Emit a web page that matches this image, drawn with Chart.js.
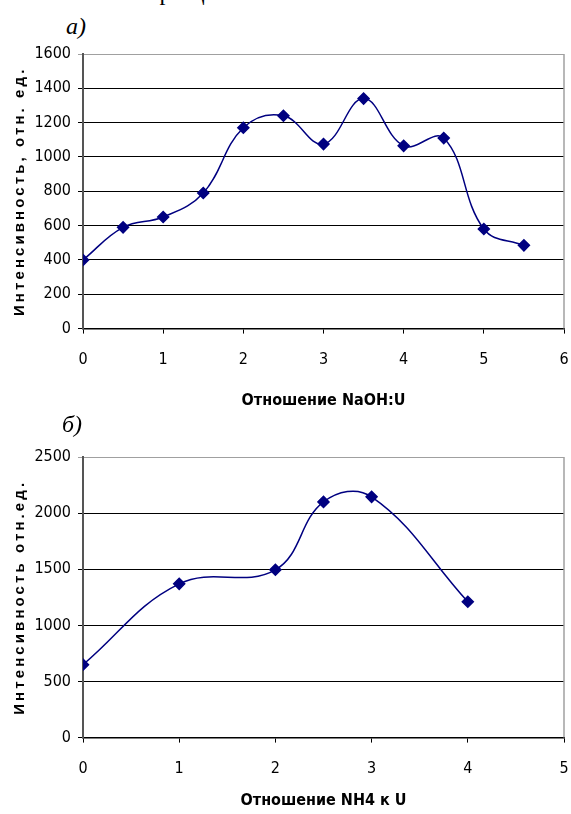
<!DOCTYPE html>
<html lang="ru">
<head>
  <meta charset="UTF-8">
  <title>Интенсивность</title>
  <script src="https://cdn.jsdelivr.net/npm/chart.js"></script>
  <style>
    body { margin: 0; background: #fff; width: 571px; height: 814px; position: relative; overflow: hidden; }
    .lbl { position: absolute; font-family: "Liberation Serif", serif; font-style: italic; font-size: 24px; color: #000; }
    .box { position: absolute; left: 0; width: 571px; }
  </style>
</head>
<body>
  <div class="lbl" style="left:60px; top:-21px; font-style:normal;">ото &nbsp;на образца.</div>
  <div class="lbl" style="left:66px; top:13px;">а)</div>
  <div class="box" style="top:40px; height:378px;"><canvas id="chartA"></canvas></div>
  <div class="lbl" style="left:62px; top:411px;">б)</div>
  <div class="box" style="top:442px; height:372px;"><canvas id="chartB"></canvas></div>

  <script>
    // а) NaOH:U
    const naohRatio = [0, 0.5, 1, 1.5, 2, 2.5, 3, 3.5, 4, 4.5, 5, 5.5];
    const naohIntensity = [400, 590, 650, 790, 1170, 1240, 1075, 1340, 1065, 1110, 580, 485];

    // б) NH4 к U
    const nh4Ratio = [0, 1, 2, 2.5, 3, 4];
    const nh4Intensity = [650, 1370, 1495, 2100, 2145, 1210];

    const lineColor = '#000080';
    const narrow = '"DejaVu Sans Condensed", "Liberation Sans Narrow", "Arial Narrow", sans-serif';
    const tickFont = { family: narrow, size: 16 };
    const titleFont = { family: narrow, size: 16, weight: 'bold' };
    const yTitleFont = { family: '"Liberation Sans", Arial, sans-serif', size: 15, weight: 'bold' };

    const framePlugin = {
      id: 'frame',
      beforeDraw(chart) {
        // Excel-style spaced letters on the vertical title
        const s = chart.scales.y;
        if (s && !s._spaced) {
          const orig = s.drawTitle.bind(s);
          s.drawTitle = function () {
            this.ctx.save();
            this.ctx.letterSpacing = '3.1px';
            orig();
            this.ctx.restore();
          };
          s._spaced = true;
        }
      },
      afterDatasetsDraw(chart) {
        const { ctx, chartArea } = chart;
        ctx.save();
        ctx.strokeStyle = '#a0a0a0';
        ctx.lineWidth = 1.5;
        ctx.beginPath();
        ctx.moveTo(chartArea.right, chartArea.top);
        ctx.lineTo(chartArea.right, chartArea.bottom);
        ctx.stroke();
        ctx.restore();
      }
    };

    function makeChart(id, xs, ys, xMax, yMax, yStep, xTitle, yTitle, pad, tickPad, titlePad) {
      const points = xs.map((x, i) => ({ x: x, y: ys[i] }));
      return new Chart(document.getElementById(id), {
        type: 'line',
        data: {
          datasets: [{
            data: points,
            borderColor: lineColor,
            backgroundColor: lineColor,
            borderWidth: 1.5,
            tension: 0.4,
            pointStyle: 'rectRot',
            pointRadius: 5.5,
            pointHoverRadius: 5.5,
            fill: false
          }]
        },
        options: {
          responsive: true,
          maintainAspectRatio: false,
          animation: false,
          layout: { padding: pad },
          plugins: { legend: { display: false }, tooltip: { enabled: false } },
          scales: {
            x: {
              type: 'linear',
              min: 0,
              max: xMax,
              // let layout.padding alone decide the plot edges
              afterFit: (scale) => { scale.paddingLeft = 0; scale.paddingRight = 0; },
              ticks: { stepSize: 1, color: '#000', font: tickFont, padding: tickPad },
              grid: { drawOnChartArea: false, drawTicks: true, tickLength: 5, color: '#000' },
              border: { display: true, color: '#000', width: 1.5 },
              title: { display: true, text: xTitle, color: '#000', font: titleFont, padding: { top: titlePad, bottom: 0 } }
            },
            y: {
              min: 0,
              max: yMax,
              afterFit: (scale) => {
                scale.width = 83 - pad.left;
                scale.paddingTop = 0;
                scale.paddingBottom = 0;
              },
              ticks: {
                stepSize: yStep, color: '#000', font: tickFont, padding: 7,
                callback: (v) => String(v)
              },
              grid: {
                color: (c) => (c.tick && c.tick.value === yMax ? '#a0a0a0' : '#000'),
                lineWidth: 1,
                tickLength: 5
              },
              border: { display: true, color: '#555', width: 2 },
              title: { display: true, text: yTitle, color: '#000', font: yTitleFont, padding: { top: 0, bottom: 2 } }
            }
          }
        },
        plugins: [framePlugin]
      });
    }

    makeChart('chartA', naohRatio, naohIntensity, 6, 1600, 200,
      'Отношение NaOH:U', 'Интенсивность, отн. ед.', { left: 11, right: 5, top: 14, bottom: 8 }, 17, 4);
    makeChart('chartB', nh4Ratio, nh4Intensity, 5, 2500, 500,
      'Отношение NH4 к U', 'Интенсивность отн.ед.', { left: 11, right: 5, top: 15, bottom: 4 }, 17, -5);
  </script>
</body>
</html>
